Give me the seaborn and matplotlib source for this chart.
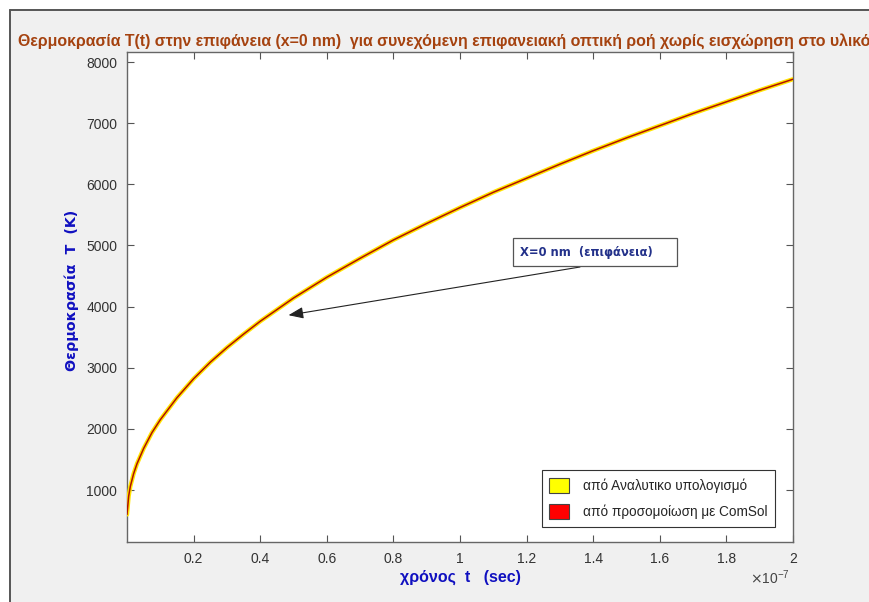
import matplotlib
matplotlib.use("Agg")
import matplotlib.pyplot as plt
from matplotlib.patches import Patch, Rectangle
from matplotlib.lines import Line2D
import seaborn as sns
import pandas as pd

# ---- data ----
t_e7 = [0.0, 0.005, 0.01, 0.02, 0.03, 0.05, 0.075, 0.1, 0.15, 0.2, 0.25, 0.3,
        0.35, 0.4, 0.45, 0.5, 0.6, 0.7, 0.8, 0.9, 1.0, 1.1, 1.2, 1.3, 1.4,
        1.5, 1.6, 1.7, 1.8, 1.9, 2.0]
T_K = [600, 900, 1060, 1270, 1430, 1680, 1940, 2150, 2510, 2820, 3090, 3330,
       3550, 3760, 3950, 4140, 4480, 4790, 5090, 5360, 5620, 5870, 6100, 6330,
       6550, 6760, 6960, 7160, 7350, 7540, 7720]
x_ticks = [0.2, 0.4, 0.6, 0.8, 1.0, 1.2, 1.4, 1.6, 1.8, 2.0]
x_ticklabels = ["0.2", "0.4", "0.6", "0.8", "1", "1.2", "1.4", "1.6", "1.8", "2"]
y_ticks = [1000, 2000, 3000, 4000, 5000, 6000, 7000, 8000]
legend_labels = ["από Αναλυτικο υπολογισμό", "από προσομοίωση με ComSol"]
title = "Θερμοκρασία T(t) στην επιφάνεια (x=0 nm)  για συνεχόμενη επιφανειακή οπτική ροή χωρίς εισχώρηση στο υλικό"
xlabel = "χρόνος  t   (sec)"
ylabel = "Θερμοκρασία  T  (K)"
annot = "X=0 nm  (επιφάνεια)"
annot_t, annot_T = 0.485, 3860

df = pd.DataFrame({"t": [v * 1e-7 for v in t_e7], "T": T_K})

sns.set_style("ticks")
plt.rcParams["font.family"] = ["Liberation Sans", "DejaVu Sans"]

W, H = 870, 602
fig = plt.figure(figsize=(W / 100, H / 100), dpi=100, facecolor="white")

def fx(px):
    return px / W

def fy(py):
    return 1 - py / H

# MATLAB-like window background and frame
fig.add_artist(Rectangle((fx(10), 0), 1 - fx(10), fy(9.5), transform=fig.transFigure,
                         facecolor="#f0f0f0", edgecolor="none", zorder=0))
fig.add_artist(Line2D([fx(10), 1], [fy(9.5), fy(9.5)], transform=fig.transFigure,
                      color="#555555", lw=1.4))
fig.add_artist(Line2D([fx(10), fx(10)], [0, fy(9.5)], transform=fig.transFigure,
                      color="#555555", lw=1.4))

ax = fig.add_axes([fx(127), fy(542), fx(793) - fx(127), fy(52) - fy(542)])
ax.set_facecolor("white")

sns.lineplot(data=df, x="t", y="T", ax=ax, color="#ffe400", lw=3.1, zorder=3)
sns.lineplot(data=df, x="t", y="T", ax=ax, color="#b01000", lw=1.1, zorder=4)

ax.set_xlim(0, 2e-7)
ax.set_ylim(150, 8165)
ax.set_xticks([v * 1e-7 for v in x_ticks])
ax.set_xticklabels(x_ticklabels)
ax.set_yticks(y_ticks)
ax.set_yticklabels([str(v) for v in y_ticks])
ax.tick_params(direction="in", length=5, width=0.8, colors="#555555",
               labelcolor="#333333", labelsize=10, top=True, right=True, pad=7)
for s in ax.spines.values():
    s.set_visible(True)
    s.set_color("#666666")
    s.set_linewidth(1.0)

ax.set_xlabel(xlabel, color="#1010c0", fontsize=11.5, fontweight="bold")
ax.set_ylabel(ylabel, color="#1010c0", fontsize=10.3, fontweight="bold",
              family="DejaVu Sans")
ax.xaxis.set_label_coords(0.5, -(577 - 542) / 490, transform=ax.transAxes)
ax.yaxis.set_label_coords((72 - 127) / 666, (542 - 290) / 490, transform=ax.transAxes)
ax.xaxis.label.set_va("center")
ax.yaxis.label.set_va("center")

fig.text(fx(790), fy(578), r"$\times\mathregular{10^{-7}}$", ha="right", va="center",
         fontsize=10, color="#444444")

fig.text(fx(18), fy(41), title, ha="left", va="center", fontsize=11.4,
         fontweight="bold", color="#a5420f")

# annotation box + arrow
fig.add_artist(Rectangle((fx(513), fy(266)), fx(677) - fx(513), fy(238) - fy(266),
                         transform=fig.transFigure, facecolor="white",
                         edgecolor="#555555", lw=0.9, zorder=5))
fig.text(fx(520), fy(252), annot, ha="left", va="center", fontsize=8.3,
         fontweight="bold", color="#23318a", family="DejaVu Sans", zorder=6)
ax.annotate("", xy=(annot_t * 1e-7, annot_T), xycoords="data",
            xytext=(fx(580), fy(267)), textcoords="figure fraction",
            arrowprops=dict(arrowstyle="-|>,head_length=0.9,head_width=0.35",
                            color="#222222", lw=0.8, shrinkA=0, shrinkB=0),
            zorder=6)

handles = [Patch(facecolor="#ffff00", edgecolor="#444444", lw=0.8),
           Patch(facecolor="#ff0000", edgecolor="#444444", lw=0.8)]
leg = ax.legend(handles, legend_labels, loc="lower right",
                bbox_to_anchor=(0.973, 0.031), fancybox=False, framealpha=1,
                edgecolor="#333333", fontsize=9.8, handlelength=1.5, handleheight=1.3,
                labelspacing=0.85, handletextpad=1.0, borderpad=0.55, borderaxespad=0)
leg.get_frame().set_linewidth(0.8)

fig.savefig("out.png", dpi=100, facecolor=fig.get_facecolor())
